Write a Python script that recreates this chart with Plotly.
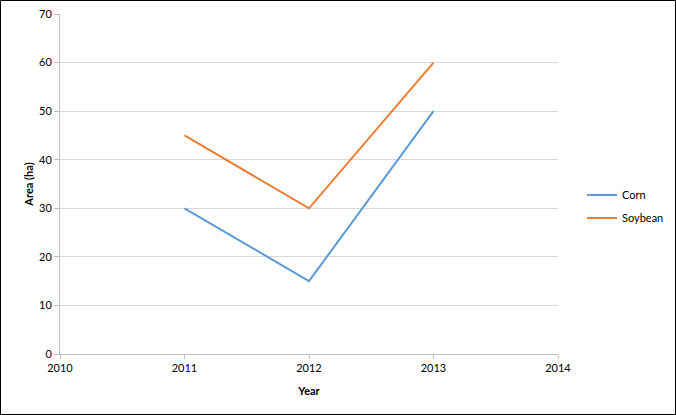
import plotly.graph_objects as go

years = [2011, 2012, 2013]
corn = [30, 15, 50]
soybean = [45, 30, 60]

COLORS = {
    'corn': '#5B9BD5',
    'soybean': '#ED7D31',
    'grid': '#D9D9D9',
    'axis': '#BFBFBF',
    'text': '#000000',
}

W, H = 676, 415
L, R, T, B = 60, 118, 14, 61
pw, ph = W - L - R, H - T - B

fig = go.Figure()
fig.add_trace(go.Scatter(x=years, y=corn, mode='lines', name='Corn',
                         line=dict(color=COLORS['corn'], width=2),
                         legend='legend'))
fig.add_trace(go.Scatter(x=years, y=soybean, mode='lines', name='Soybean',
                         line=dict(color=COLORS['soybean'], width=2),
                         legend='legend2'))

font = 'Lato, "Open Sans", Arial, sans-serif'
leg = dict(xref='container', yref='container', x=582 / W,
           xanchor='left', yanchor='middle', font=dict(size=11),
           itemwidth=30, bgcolor='rgba(0,0,0,0)')

fig.update_layout(
    width=W, height=H, autosize=False,
    margin=dict(l=L, r=R, t=T, b=B, autoexpand=False),
    plot_bgcolor='white', paper_bgcolor='white',
    font=dict(family=font, size=11, color=COLORS['text']),
    showlegend=True,
    legend=dict(leg, y=1 - 195 / H),
    legend2=dict(leg, y=1 - 218 / H),
)
fig.update_xaxes(range=[2010, 2014], dtick=1, tick0=2010, showgrid=False,
                 showline=True, linecolor=COLORS['axis'], linewidth=1,
                 ticks='outside', ticklen=4, tickcolor=COLORS['axis'],
                 zeroline=False,
                 title=dict(text='<b>Year</b>', font=dict(size=11), standoff=14))
fig.update_yaxes(range=[0, 70], dtick=10, showgrid=True, gridcolor=COLORS['grid'],
                 showline=True, linecolor=COLORS['axis'], linewidth=1,
                 ticks='outside', ticklen=5, tickcolor=COLORS['axis'],
                 zeroline=False,
                 title=dict(text='<b>Area (ha)</b>', font=dict(size=11), standoff=3))

fig.add_shape(type='rect', xref='paper', yref='paper',
              x0=(0.5 - L) / pw, x1=(W - 0.5 - L) / pw,
              y0=-(B - 0.5) / ph, y1=1 + (T - 0.5) / ph,
              line=dict(color='black', width=1))

fig.write_html("out.html", config={'displayModeBar': False},
               post_script="document.body.style.margin='0';")
